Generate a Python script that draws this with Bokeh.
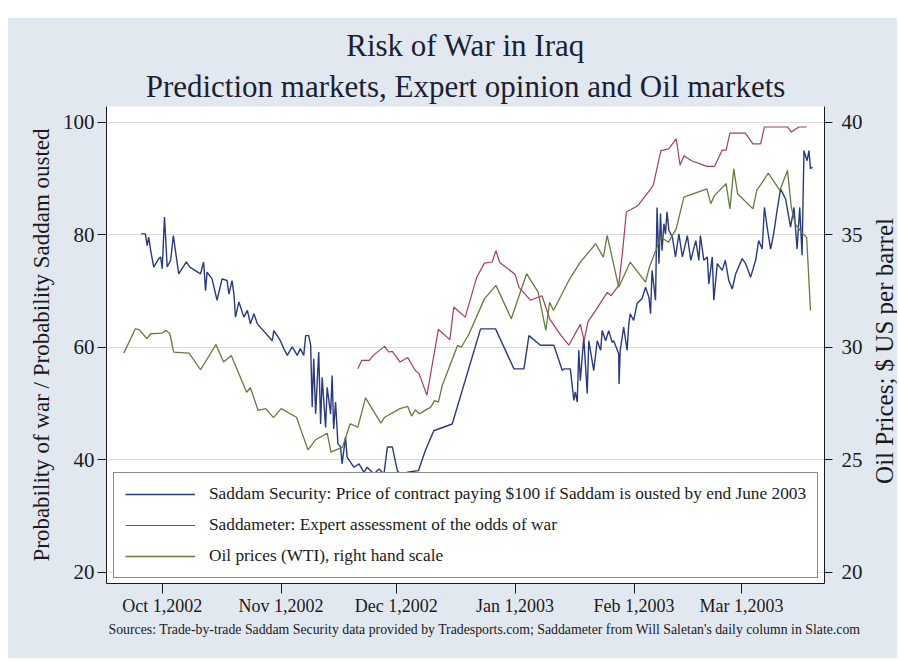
import math
import pandas as pd
from bokeh.plotting import figure
from bokeh.models import (Range1d, LinearAxis, FixedTicker, Title, Legend,
                          LegendItem, Spacer)
from bokeh.core.properties import value
from bokeh.layouts import column, row
from bokeh.embed import file_html
from bokeh.resources import INLINE

# ---------------- data ----------------
base_date = "2002-10-01"

# Saddam Security (trade-by-trade), days since Oct 1 2002, price
sec_days = [-5.5, -4.4, -3.9, -3.5, -3.0, -2.2, -0.9, -0.4, 0.0, 0.6, 1.3, 2.2, 2.9,
            4.3, 6.3, 7.2, 10.0, 10.8, 11.3, 11.7, 13.0, 14.3, 15.6, 16.9, 17.4,
            18.2, 18.7, 19.1, 20.0, 21.3, 22.2, 23.0, 23.9, 24.8, 28.7, 29.1, 30.8,
            31.7, 32.6, 33.9, 35.2, 36.0, 36.9, 37.4, 38.2, 38.7, 39.1, 39.5, 40.0,
            40.8, 41.3, 41.7, 42.6, 43.0, 43.9, 44.3, 44.7, 45.2, 45.8, 46.5, 46.9,
            47.8, 48.2, 50.0, 51.3, 52.6, 53.4, 55.2, 56.5, 57.8, 58.7, 60.0, 61.3,
            62.1, 64.7, 66.8, 68.6, 70.8, 75.6, 83.0, 86.9, 91.7, 94.3, 95.6, 98.6,
            102.1, 104.3, 104.7, 106.4, 107.3, 107.7, 108.2, 108.6, 109.0, 109.9,
            110.8, 111.2, 112.5, 113.4, 114.3, 114.7, 115.6, 116.4, 117.3, 117.7,
            119.0, 119.1, 119.4, 120.3, 121.2, 121.6, 122.0, 122.9, 123.8, 125.1,
            126.0, 126.9, 127.3, 127.7, 128.6, 129.0, 129.5, 129.9, 130.3, 130.8,
            131.2, 131.6, 132.1, 133.0, 133.8, 134.7, 135.6, 136.9, 137.8, 139.1,
            139.9, 140.3, 141.2, 142.1, 142.5, 143.4, 143.8, 144.7, 146.0, 146.8,
            147.7, 148.6, 149.5, 151.2, 152.1, 153.4, 154.7, 155.5, 156.4, 157.0,
            157.7, 158.6, 159.4, 160.3, 161.2, 162.5, 163.8, 164.7, 165.5, 166.2,
            166.8, 167.3, 168.1, 168.6, 169.0, 169.5]
sec_price = [80.2, 80.2, 78.1, 79.6, 77.2, 74.3, 75.8, 76.1, 74.0, 83.2, 74.3, 75.5, 79.9,
             73.1, 75.2, 74.3, 73.1, 75.2, 70.1, 73.4, 72.2, 68.4, 72.2, 71.9, 69.5,
             71.9, 69.5, 65.4, 68.1, 65.4, 66.6, 64.2, 66.0, 64.2, 61.2, 63.0, 61.2,
             59.8, 58.6, 60.1, 58.6, 59.8, 58.6, 62.1, 62.1, 60.4, 49.4, 58.0, 48.2,
             59.2, 46.4, 54.7, 45.8, 52.9, 48.2, 55.0, 45.5, 50.3, 42.9, 42.3, 39.3,
             44.1, 40.5, 38.7, 39.3, 37.8, 38.7, 37.5, 38.4, 37.5, 42.3, 42.3, 38.1,
             37.5, 37.9, 38.1, 41.7, 45.2, 46.4, 63.3, 63.3, 56.2, 56.2, 62.1, 60.4,
             60.4, 55.9, 56.2, 56.2, 50.6, 52.1, 50.3, 59.5, 54.1, 61.8,
             51.8, 61.2, 55.9, 61.2, 59.5, 63.0, 61.2, 63.0, 60.9, 61.2,
             58.9, 53.5, 59.5, 63.6, 59.5, 63.9, 66.0, 64.8, 67.8, 68.7,
             70.7, 68.9, 66.0, 73.7, 68.4, 84.9, 74.9, 83.8, 77.2, 82.0,
             80.2, 84.1, 80.8, 79.6, 76.1, 80.2, 76.1, 79.9, 75.5, 79.0,
             75.5, 79.9, 75.5, 76.1, 71.3, 76.1, 68.4, 74.9, 73.7, 75.5,
             71.9, 70.4, 73.1, 75.8, 74.9, 72.5, 75.5, 79.0, 77.5, 84.9,
             81.4, 77.5, 80.2, 84.4, 88.2, 86.4, 81.4, 84.9, 77.5, 84.9,
             76.4, 95.0, 93.2, 95.0, 91.8, 92.1]

# Saddameter (expert odds of war)
meter_dates = ["2002-11-21", "2002-11-22", "2002-11-24", "2002-11-25", "2002-11-28",
               "2002-11-29", "2002-11-30", "2002-12-02", "2002-12-04", "2002-12-06",
               "2002-12-07", "2002-12-09", "2002-12-12", "2002-12-15", "2002-12-16",
               "2002-12-19", "2002-12-22", "2002-12-24", "2002-12-26", "2002-12-27",
               "2002-12-28", "2003-01-01", "2003-01-02", "2003-01-05", "2003-01-08",
               "2003-01-10", "2003-01-13", "2003-01-15", "2003-01-18", "2003-01-19",
               "2003-01-20", "2003-01-22", "2003-01-25", "2003-01-26", "2003-01-28",
               "2003-01-29", "2003-01-30", "2003-02-02", "2003-02-05", "2003-02-06",
               "2003-02-08", "2003-02-10", "2003-02-12", "2003-02-13", "2003-02-14",
               "2003-02-16", "2003-02-20", "2003-02-22", "2003-02-24", "2003-02-25",
               "2003-02-26", "2003-03-02", "2003-03-04", "2003-03-06", "2003-03-07",
               "2003-03-13", "2003-03-14", "2003-03-16", "2003-03-18"]
meter_odds = [56.2, 57.7, 57.7, 58.6, 60.2, 59.2, 59.3, 57.4, 58.2, 55.9,
              55.3, 51.5, 63.2, 61.4, 67.2, 65.4, 72.5, 75.0, 75.2, 77.2,
              75.1, 73.0, 70.7, 68.4, 69.2, 65.1, 62.1, 60.4, 64.1, 61.2,
              64.6, 66.6, 69.8, 69.2, 71.0, 77.0, 84.1, 85.2, 87.9, 88.8,
              95.0, 95.3, 97.1, 92.4, 94.1, 93.2, 92.2, 92.2, 95.1, 95.1,
              98.1, 98.1, 96.2, 96.2, 99.2, 99.2, 98.3, 99.2, 99.2]

# Oil prices (WTI), $ per barrel
oil_dates = ["2002-09-21", "2002-09-24", "2002-09-25", "2002-09-27", "2002-09-28",
             "2002-10-01", "2002-10-02", "2002-10-03", "2002-10-04", "2002-10-08",
             "2002-10-11", "2002-10-15", "2002-10-17", "2002-10-19", "2002-10-23",
             "2002-10-24", "2002-10-26", "2002-10-28", "2002-10-30", "2002-11-01",
             "2002-11-05", "2002-11-08", "2002-11-10", "2002-11-13", "2002-11-14",
             "2002-11-17", "2002-11-19", "2002-11-21", "2002-11-23", "2002-11-27",
             "2002-11-28", "2002-12-02", "2002-12-04", "2002-12-05", "2002-12-06",
             "2002-12-07", "2002-12-10", "2002-12-11", "2002-12-12", "2002-12-13",
             "2002-12-17", "2002-12-18", "2002-12-20", "2002-12-24", "2002-12-27",
             "2002-12-31", "2003-01-04", "2003-01-07", "2003-01-09", "2003-01-10",
             "2003-01-11", "2003-01-15", "2003-01-18", "2003-01-22", "2003-01-24",
             "2003-01-25", "2003-01-28", "2003-01-31", "2003-02-04", "2003-02-05",
             "2003-02-08", "2003-02-10", "2003-02-12", "2003-02-14", "2003-02-20",
             "2003-02-21", "2003-02-22", "2003-02-25", "2003-02-26", "2003-02-27",
             "2003-02-28", "2003-03-04", "2003-03-05", "2003-03-08", "2003-03-11",
             "2003-03-13", "2003-03-14", "2003-03-15", "2003-03-17", "2003-03-18",
             "2003-03-19"]
oil_price = [29.75, 30.83, 30.79, 30.39, 30.61, 30.64, 30.76, 30.61, 29.79, 29.75,
             29.01, 30.13, 29.35, 29.64, 28.01, 28.21, 27.20, 27.28, 26.88, 27.28,
             26.90, 25.45, 25.90, 26.19, 25.35, 25.57, 26.61, 26.46, 27.76, 26.64,
             26.90, 27.28, 27.38, 26.95, 27.23, 27.05, 27.35, 27.64, 27.57, 28.31,
             30.09, 30.01, 30.61, 32.16, 32.76, 31.28, 33.28, 32.46, 30.76, 32.01,
             31.64, 32.98, 33.79, 34.61, 34.01, 34.98, 32.68, 33.79, 32.90, 33.57,
             34.90, 34.68, 35.28, 36.68, 37.05, 36.39, 36.76, 37.28, 36.16, 37.94,
             36.83, 36.16, 36.98, 37.75, 36.98, 37.87, 36.24, 35.50, 35.05, 34.90,
             31.64]

x_tick_dates = ["2002-10-01", "2002-11-01", "2002-12-01", "2003-01-01",
                "2003-02-01", "2003-03-01"]
x_tick_labels = ["Oct 1,2002", "Nov 1,2002", "Dec 1,2002", "Jan 1,2003",
                 "Feb 1,2003", "Mar 1,2003"]
left_ticks = [20, 40, 60, 80, 100]
right_ticks = [20, 25, 30, 35, 40]

series_labels = [
    "Saddam Security: Price of contract paying $100 if Saddam is ousted by end June 2003",
    "Saddameter: Expert assessment of the odds of war",
    "Oil prices (WTI), right hand scale",
]
right_axis_title = "Oil Prices; $ US per barrel"

# ---------------- styling ----------------
FONT = "Liberation Serif"
BG = "#E2E8F0"
INK = "#1a1a1a"
C_SEC = "#2a3a7c"
C_MET = "#a63f52"
C_OIL = "#637d3c"

FIG_H = 640
sec_x = pd.Timestamp(base_date) + pd.to_timedelta(sec_days, unit="D")
meter_x = pd.to_datetime(meter_dates)
oil_x = pd.to_datetime(oil_dates)

x_start = pd.Timestamp("2002-09-16 11:30")
x_end = pd.Timestamp("2003-03-22 15:40")

p = figure(width=863, height=FIG_H, x_axis_type="datetime",
           x_range=Range1d(x_start, x_end), y_range=Range1d(18.04, 102.84),
           output_backend="svg", toolbar_location=None, title=None,
           background_fill_color="white", border_fill_color=BG,
           min_border_left=98, min_border_right=47, min_border_top=88,
           min_border_bottom=75)
p.outline_line_color = None
p.extra_y_ranges = {"oil": Range1d(19.51, 40.71)}

r_sec = p.line(sec_x, sec_price, line_color=C_SEC, line_width=1.4)
r_met = p.line(meter_x, meter_odds, line_color=C_MET, line_width=1.2)
r_oil = p.line(oil_x, oil_price, line_color=C_OIL, line_width=1.3, y_range_name="oil")

# grid
p.xgrid.visible = False
p.ygrid.grid_line_color = "#dcdcdc"
p.ygrid.grid_line_width = 1
p.ygrid.ticker = FixedTicker(ticks=left_ticks)

# x axis
tick_ms = [int(pd.Timestamp(d).value // 10**6) for d in x_tick_dates]
xa = p.xaxis[0]
xa.ticker = FixedTicker(ticks=tick_ms)
xa.major_label_overrides = {t: lab for t, lab in zip(tick_ms, x_tick_labels)}
xa.major_tick_out = 10
xa.major_tick_in = 0
xa.minor_tick_out = 0
xa.minor_tick_in = 0
xa.major_label_standoff = 2
xa.major_label_text_font = FONT
xa.major_label_text_font_size = "18px"
xa.major_label_text_color = INK
xa.axis_line_color = INK
xa.major_tick_line_color = INK

# left axis
ya = p.yaxis[0]
ya.ticker = FixedTicker(ticks=left_ticks)
ya.major_tick_out = 9
ya.major_tick_in = 0
ya.minor_tick_out = 0
ya.minor_tick_in = 0
ya.major_label_standoff = 3
ya.major_label_text_font = FONT
ya.major_label_text_font_size = "21px"
ya.major_label_text_color = INK
ya.axis_line_color = INK
ya.major_tick_line_color = INK
ya.axis_label = "Probability of war / Probability Saddam ousted"
ya.axis_label_text_font = FONT
ya.axis_label_text_font_size = "23px"
ya.axis_label_text_font_style = "normal"
ya.axis_label_text_color = INK
ya.axis_label_standoff = 6

# right axis
ra = LinearAxis(y_range_name="oil", ticker=FixedTicker(ticks=right_ticks))
ra.major_tick_out = 8
ra.major_tick_in = 0
ra.minor_tick_out = 0
ra.minor_tick_in = 0
ra.major_label_standoff = 9
ra.major_label_text_font = FONT
ra.major_label_text_font_size = "21px"
ra.major_label_text_color = INK
ra.axis_line_color = INK
ra.major_tick_line_color = INK
p.add_layout(ra, "right")

# titles
t2 = Title(text="Prediction markets, Expert opinion and Oil markets", align="center",
           text_font=FONT, text_font_size="31px", text_font_style="normal",
           text_color="#1c1f33", standoff=6)
t1 = Title(text="Risk of War in Iraq", align="center",
           text_font=FONT, text_font_size="31px", text_font_style="normal",
           text_color="#1c1f33", standoff=2)
p.add_layout(t2, "above")
p.add_layout(t1, "above")

note = Title(text="Sources: Trade-by-trade Saddam Security data provided by Tradesports.com; "
                  "Saddameter from Will Saletan's daily column in Slate.com",
             align="left", offset=2, text_font=FONT, text_font_size="13.8px",
             text_font_style="normal", text_color=INK, standoff=2)
p.add_layout(note, "below")

# legend
legend = Legend(items=[LegendItem(label=series_labels[0], renderers=[r_sec]),
                       LegendItem(label=series_labels[1], renderers=[r_met]),
                       LegendItem(label=series_labels[2], renderers=[r_oil])],
                location=(7, 5), orientation="vertical",
                glyph_width=70, glyph_height=20, label_height=20,
                label_standoff=14, spacing=11, padding=11, margin=0,
                label_text_font=FONT, label_text_font_size="17.3px",
                label_text_color=INK, border_line_color=INK,
                border_line_width=1, background_fill_color="white",
                background_fill_alpha=1.0)
p.add_layout(legend)

# right-hand axis title strip (reads bottom-to-top, as in the original)
side = figure(width=26, height=FIG_H, x_range=Range1d(0, 1), y_range=Range1d(0, FIG_H),
              output_backend="svg", toolbar_location=None, title=None,
              background_fill_color=BG, border_fill_color=BG,
              min_border=0, min_border_left=0, min_border_right=0,
              min_border_top=0, min_border_bottom=0)
side.axis.visible = False
side.grid.visible = False
side.outline_line_color = None
side.text(x=[0.5], y=[FIG_H - 328], text=[right_axis_title], angle=math.pi / 2,
          text_align="center", text_baseline="middle",
          text_font=value(FONT), text_font_size="25px", text_color=INK)

inner = row(p, side, styles={"background-color": BG})
layout = column(Spacer(height=18, width=897),
                row(Spacer(width=8, height=FIG_H), inner))
open("out.html", "w").write(file_html(layout, INLINE))
